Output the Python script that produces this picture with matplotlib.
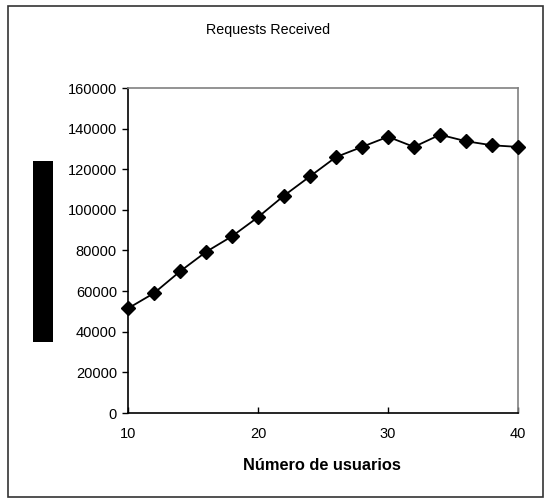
import matplotlib
matplotlib.use("Agg")
import matplotlib.pyplot as plt
from matplotlib.patches import Rectangle

plt.rcParams['font.family'] = ['Liberation Sans', 'DejaVu Sans']

users = [10, 12, 14, 16, 18, 20, 22, 24, 26, 28, 30, 32, 34, 36, 38, 40]
requests = [51500, 59000, 69700, 79300, 87000, 96400, 107000, 116500, 126000,
            131000, 136000, 131000, 137000, 133800, 131800, 131000]
yticks = [0, 20000, 40000, 60000, 80000, 100000, 120000, 140000, 160000]
xticks = [10, 20, 30, 40]
title = "Requests Received"
xlabel = "Número de usuarios"

W, H = 544, 498
fig = plt.figure(figsize=(W / 100, H / 100), dpi=100)

# outer frame
fig.patches.append(Rectangle((8 / W, 1 - 497 / H), (543 - 8) / W, (497 - 6) / H,
                             transform=fig.transFigure, fill=False,
                             edgecolor='#333333', linewidth=1.2))
# redacted y label block
fig.patches.append(Rectangle((33 / W, 1 - 342 / H), 20 / W, (342 - 161) / H,
                             transform=fig.transFigure, facecolor='black',
                             edgecolor='none'))

ax = fig.add_axes([128 / W, 1 - 413 / H, (518 - 128) / W, (413 - 88) / H])
ax.plot(users, requests, color='black', linewidth=1.3, marker='D',
        markersize=7, markerfacecolor='black', markeredgecolor='black',
        clip_on=False, zorder=3)

ax.set_xlim(10, 40)
ax.set_ylim(0, 160000)
ax.set_xticks(xticks)
ax.set_yticks(yticks)
ax.set_xticklabels([str(v) for v in xticks], fontsize=10.5)
ax.set_yticklabels([str(v) for v in yticks], fontsize=10.5)
ax.tick_params(axis='y', direction='out', length=4, width=1, pad=4)
ax.tick_params(axis='x', direction='in', length=4, width=1, pad=10)

for s in ['left', 'bottom']:
    ax.spines[s].set_color('black')
    ax.spines[s].set_linewidth(1.2)
for s in ['top', 'right']:
    ax.spines[s].set_color('#808080')
    ax.spines[s].set_linewidth(1.2)

fig.text(268 / W, 1 - 30 / H, title, ha='center', va='center', fontsize=10.3)
fig.text(322 / W, 1 - 465 / H, xlabel, ha='center', va='center',
         fontsize=11.8, fontweight='bold')

fig.savefig("out.png", dpi=100)
